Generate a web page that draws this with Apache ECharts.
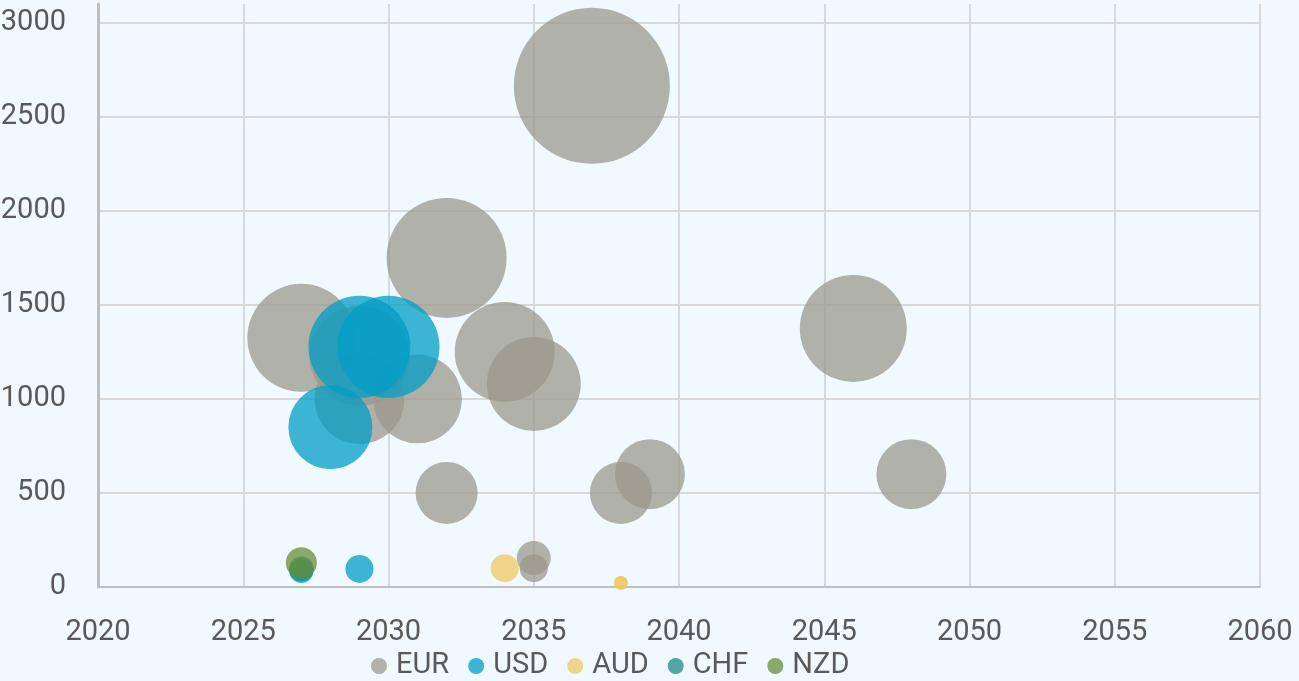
<!DOCTYPE html>
<html>
<head>
<meta charset="utf-8">
<title>Bubble chart</title>
<script src="https://cdn.jsdelivr.net/npm/echarts@6/dist/echarts.min.js"></script>
<style>
    html,body{margin:0;padding:0;background:#f0f9ff;}
    #chart{width:1299px;height:681px;}
</style>
</head>
<body>
<div id="chart"></div>
<script>
// series data: year, amount, bubble size
var currencies = ['EUR', 'USD', 'AUD', 'CHF', 'NZD'];
var colors = ['#9b988b', '#009dc7', '#f0c860', '#1d8987', '#688d36'];

var eurYears  = [2027, 2029, 2029, 2031, 2032, 2032, 2034, 2035, 2035, 2035, 2037, 2038, 2039, 2046, 2048];
var eurValues = [1325, 1230, 1000, 1000, 1750,  500, 1250, 1080,  154,  100, 2665,  500,  600, 1375,  600];
var eurSizes  = [1275, 1093,  885,  860, 1574,  420, 1093,  966,  126,   86, 2660,  420,  535, 1250,  535];

var usdYears  = [2027, 2028, 2029, 2030, 2029];
var usdValues = [  85,  850, 1277, 1277,   96];
var usdSizes  = [  63,  771, 1137, 1137,   86];

var audYears  = [2034, 2038, 2038];
var audValues = [ 100,   22,   22];
var audSizes  = [  86,   21,   21];

var chfYears  = [2027];
var chfValues = [  96];
var chfSizes  = [  68];

var nzdYears  = [2027];
var nzdValues = [ 129];
var nzdSizes  = [ 105];

var xTicks = [2020, 2060, 5];
var yTicks = [0, 3100, 500];

function points(xs, ys, ss){
    return xs.map(function(x, i){
        return [x, ys[i], ss[i]];
    });
}

var seriesData = [
    points(eurYears, eurValues, eurSizes),
    points(usdYears, usdValues, usdSizes),
    points(audYears, audValues, audSizes),
    points(chfYears, chfValues, chfSizes),
    points(nzdYears, nzdValues, nzdSizes)
];

var font = 'Roboto';
var chart = echarts.init(document.getElementById('chart'));
chart.setOption({
    backgroundColor: '#f0f9ff',
    animation: false,
    grid: {left: 98, right: 39, top: 4, bottom: 94, outerBoundsMode: 'none', containLabel: false},
    xAxis: {
        type: 'value',
        min: xTicks[0], max: xTicks[1], interval: xTicks[2],
        axisLine: {show: true, lineStyle: {color: '#bfbfbf', width: 2}},
        axisTick: {show: false},
        splitLine: {show: true, lineStyle: {color: '#d9d9d9', width: 2}},
        axisLabel: {color: '#595959', fontSize: 29, fontFamily: font, margin: 31,
            formatter: function(v){ return String(v); }}
    },
    yAxis: {
        type: 'value',
        min: yTicks[0], max: yTicks[1], interval: yTicks[2],
        axisLine: {show: true, lineStyle: {color: '#bfbfbf', width: 3}},
        axisTick: {show: false},
        splitLine: {show: true, showMaxLine: false, lineStyle: {color: '#d9d9d9', width: 2}},
        axisLabel: {color: '#595959', fontSize: 29, fontFamily: font, margin: 32, showMaxLabel: false,
            formatter: function(v){ return v % 500 === 0 ? String(v) : ''; }}
    },
    legend: {
        left: 366, top: 646,
        icon: 'circle', itemWidth: 16, itemHeight: 16, itemGap: 19,
        textStyle: {color: '#595959', fontSize: 29, fontFamily: font, lineHeight: 30, padding: [0, 0, 0, 4]},
        data: currencies
    },
    series: currencies.map(function(name, i){
        return {
            name: name,
            type: 'scatter',
            data: seriesData[i],
            symbolSize: function(d){ return 3.025 * Math.sqrt(d[2]); },
            itemStyle: {color: colors[i], opacity: 0.75},
            emphasis: {disabled: true}
        };
    })
});
</script>
</body>
</html>
